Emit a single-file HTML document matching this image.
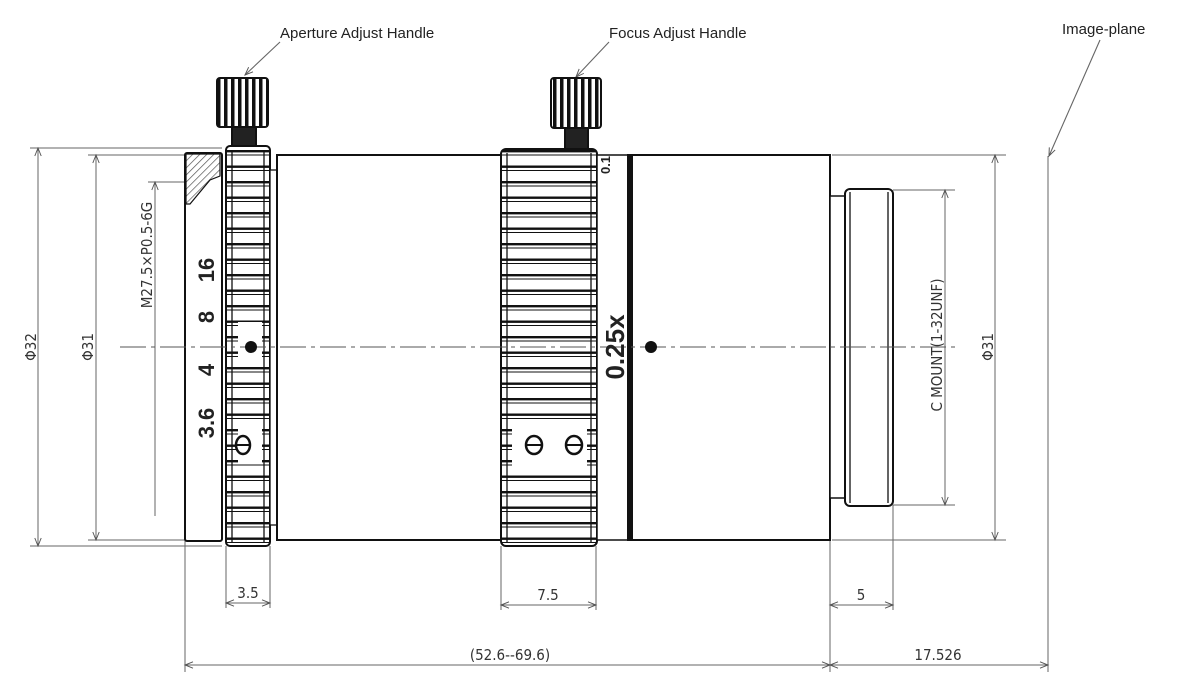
<!DOCTYPE html>
<html><head><meta charset="utf-8"><style>
html,body{margin:0;padding:0;background:#fff;width:1184px;height:699px;overflow:hidden}
svg{display:block}
text{font-family:"Liberation Sans",sans-serif;fill:#222}
.d{font-family:"DejaVu Sans Condensed","Liberation Sans Narrow","Liberation Sans",sans-serif;font-size:15px;fill:#333}
</style></head><body>
<svg width="1184" height="699" viewBox="0 0 1184 699" xmlns="http://www.w3.org/2000/svg">
<defs>
<marker id="a" viewBox="0 0 10 10" refX="10" refY="5" markerWidth="12" markerHeight="8" orient="auto-start-reverse" markerUnits="userSpaceOnUse"><path d="M0,1 L10,5 L0,9" fill="none" stroke="#555" stroke-width="1.2"/></marker>
<pattern id="rib" x="0" y="150" width="10" height="15.5" patternUnits="userSpaceOnUse"><rect width="10" height="15.5" fill="#fff"/><line x1="0" y1="1.2" x2="10" y2="1.2" stroke="#111" stroke-width="2.4"/><line x1="0" y1="5" x2="10" y2="5" stroke="#111" stroke-width="1"/></pattern>
<pattern id="knurl" width="7" height="10" patternUnits="userSpaceOnUse"><rect width="7" height="10" fill="#fff"/><rect width="3.5" height="10" fill="#111"/></pattern>
<pattern id="hatch" width="5" height="5" patternUnits="userSpaceOnUse" patternTransform="rotate(45)"><rect width="5" height="5" fill="#fff"/><line x1="0" y1="0" x2="0" y2="5" stroke="#555" stroke-width="1.4"/></pattern>
</defs>

<text x="280" y="38" font-size="15">Aperture Adjust Handle</text>
<text x="609" y="38" font-size="15">Focus Adjust Handle</text>
<text x="1062" y="34" font-size="15">Image-plane</text>
<g stroke="#666" stroke-width="1.1" fill="none">
<line x1="280" y1="42" x2="245" y2="75" marker-end="url(#a)"/>
<line x1="609" y1="42" x2="576" y2="77" marker-end="url(#a)"/>
<line x1="1100" y1="40" x2="1049" y2="156" marker-end="url(#a)"/>
</g>

<g stroke="#666" stroke-width="1" fill="none">
<line x1="30" y1="148" x2="222" y2="148"/>
<line x1="30" y1="546" x2="222" y2="546"/>
<line x1="88" y1="155" x2="185" y2="155"/>
<line x1="88" y1="540" x2="185" y2="540"/>
<line x1="148" y1="182" x2="200" y2="182"/>
<line x1="832" y1="155" x2="1006" y2="155"/>
<line x1="832" y1="540" x2="1006" y2="540"/>
<line x1="893" y1="190" x2="955" y2="190"/>
<line x1="893" y1="505" x2="955" y2="505"/>
<line x1="185" y1="540" x2="185" y2="672"/>
<line x1="226" y1="546" x2="226" y2="608"/>
<line x1="270" y1="546" x2="270" y2="608"/>
<line x1="501" y1="546" x2="501" y2="610"/>
<line x1="596" y1="546" x2="596" y2="610"/>
<line x1="830" y1="540" x2="830" y2="672"/>
<line x1="893" y1="505" x2="893" y2="610"/>
<line x1="1048" y1="156" x2="1048" y2="672"/>
<line x1="38" y1="148" x2="38" y2="546" marker-start="url(#a)" marker-end="url(#a)"/>
<line x1="96" y1="155" x2="96" y2="540" marker-start="url(#a)" marker-end="url(#a)"/>
<line x1="155" y1="182" x2="155" y2="516" marker-start="url(#a)"/>
<line x1="945" y1="190" x2="945" y2="505" marker-start="url(#a)" marker-end="url(#a)"/>
<line x1="995" y1="155" x2="995" y2="540" marker-start="url(#a)" marker-end="url(#a)"/>
<line x1="226" y1="603" x2="270" y2="603" marker-start="url(#a)" marker-end="url(#a)"/>
<line x1="501" y1="605" x2="596" y2="605" marker-start="url(#a)" marker-end="url(#a)"/>
<line x1="830" y1="605" x2="893" y2="605" marker-start="url(#a)" marker-end="url(#a)"/>
<line x1="185" y1="665" x2="830" y2="665" marker-start="url(#a)" marker-end="url(#a)"/>
<line x1="830" y1="665" x2="1048" y2="665" marker-start="url(#a)" marker-end="url(#a)"/>
</g>
<g class="d">
<text class="d" transform="translate(36,347) rotate(-90)" text-anchor="middle">Φ32</text>
<text class="d" transform="translate(93,347) rotate(-90)" text-anchor="middle">Φ31</text>
<text class="d" transform="translate(152,255) rotate(-90)" text-anchor="middle" font-size="13">M27.5×P0.5-6G</text>
<text class="d" transform="translate(942,345) rotate(-90)" text-anchor="middle" font-size="14">C MOUNT(1-32UNF)</text>
<text class="d" transform="translate(993,347) rotate(-90)" text-anchor="middle">Φ31</text>
<text class="d" x="248" y="598" text-anchor="middle">3.5</text>
<text class="d" x="548" y="600" text-anchor="middle">7.5</text>
<text class="d" x="861" y="600" text-anchor="middle">5</text>
<text class="d" x="510" y="660" text-anchor="middle">(52.6--69.6)</text>
<text class="d" x="938" y="660" text-anchor="middle">17.526</text>
</g>

<g stroke="#111" stroke-width="2" fill="#fff">
<rect x="185" y="153" width="37" height="388" rx="2"/>
<path d="M186,154 H220 V176 L210,180 L190,204 H186 Z" fill="url(#hatch)" stroke="#111" stroke-width="1.2"/>
<rect x="232" y="126" width="24" height="21" fill="#222"/>
<rect x="217" y="78" width="51" height="49" rx="3" fill="url(#knurl)"/>
<rect x="226" y="146" width="44" height="400" rx="4" fill="url(#rib)"/>
<line x1="232" y1="150" x2="232" y2="542" stroke-width="1.3"/>
<line x1="264" y1="150" x2="264" y2="542" stroke-width="1.3"/>
<rect x="270" y="170" width="7" height="355" stroke-width="1.3"/>
<rect x="277" y="155" width="224" height="385"/>
<rect x="565" y="127" width="23" height="22" fill="#222"/>
<rect x="551" y="78" width="50" height="50" rx="3" fill="url(#knurl)"/>
<rect x="501" y="149" width="96" height="397" rx="5" fill="url(#rib)"/>
<line x1="507" y1="153" x2="507" y2="542" stroke-width="1.3"/>
<line x1="591" y1="153" x2="591" y2="542" stroke-width="1.3"/>
<rect x="597" y="155" width="32" height="385" stroke-width="1.5"/>
<rect x="628" y="155" width="4" height="385" fill="#111"/>
<rect x="632" y="155" width="198" height="385"/>
<rect x="830" y="196" width="15" height="302" stroke-width="1.5"/>
<rect x="845" y="189" width="48" height="317" rx="5" stroke-width="2"/>
<line x1="850" y1="192" x2="850" y2="503" stroke-width="1.3"/>
<line x1="888" y1="192" x2="888" y2="503" stroke-width="1.3"/>
</g>
<rect x="238" y="322" width="24" height="42" fill="#fff"/>
<rect x="238" y="428" width="24" height="36" fill="#fff"/>
<rect x="512" y="424" width="75" height="44" fill="#fff"/>

<!-- centerline on top -->
<line x1="120" y1="347" x2="960" y2="347" stroke="#555" stroke-width="1" stroke-dasharray="26,5,4,5"/>

<g fill="#fff" stroke="#111" stroke-width="2.5">
<ellipse cx="243" cy="445" rx="7" ry="9"/>
<ellipse cx="534" cy="445" rx="8" ry="9"/>
<ellipse cx="574" cy="445" rx="8" ry="9"/>
</g>
<line x1="236" y1="445" x2="250" y2="445" stroke="#111" stroke-width="2"/>
<line x1="526" y1="445" x2="542" y2="445" stroke="#111" stroke-width="2"/>
<line x1="566" y1="445" x2="582" y2="445" stroke="#111" stroke-width="2"/>
<circle cx="251" cy="347" r="6" fill="#111"/>
<circle cx="651" cy="347" r="6" fill="#111"/>

<g font-weight="bold" font-size="22" style="font-family:'Liberation Sans Narrow','Liberation Sans',sans-serif">
<text transform="translate(214,270) rotate(-90)" text-anchor="middle" fill="#111">16</text>
<text transform="translate(214,317) rotate(-90)" text-anchor="middle" fill="#111">8</text>
<text transform="translate(214,370) rotate(-90)" text-anchor="middle" fill="#111">4</text>
<text transform="translate(214,423) rotate(-90)" text-anchor="middle" fill="#111">3.6</text>
<text transform="translate(624,347) rotate(-90)" text-anchor="middle" fill="#111" font-size="26">0.25x</text>
<text transform="translate(610,165) rotate(-90)" text-anchor="middle" fill="#111" font-size="13">0.1</text>
</g>
</svg>
</body></html>
